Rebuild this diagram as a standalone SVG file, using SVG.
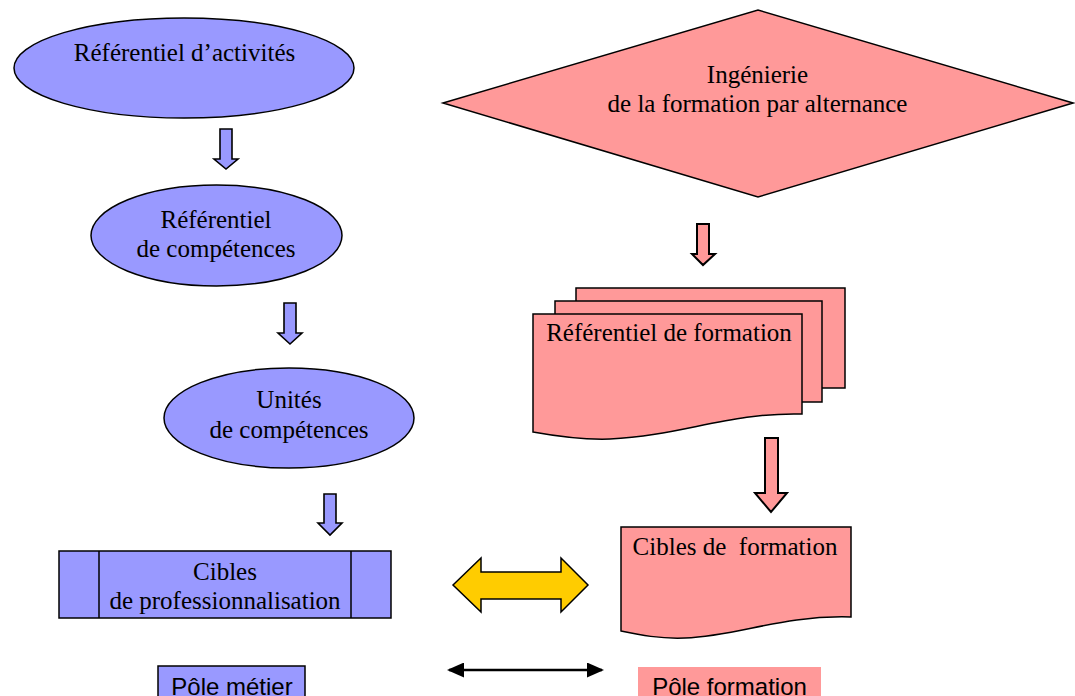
<svg xmlns="http://www.w3.org/2000/svg" width="1075" height="696" viewBox="0 0 1075 696">
  <style>
    .t { font-family: "Liberation Serif", "Times New Roman", serif; font-size: 25px; fill: #000; text-anchor: middle; }
    .s { font-family: "Liberation Sans", Arial, sans-serif; font-size: 24px; fill: #000; text-anchor: middle; }
    .blue { fill: #9999FF; stroke: #000; stroke-width: 1.5; }
    .pink { fill: #FF9999; stroke: #000; stroke-width: 1.5; }
    .barrow { fill: #9999FF; stroke: #000; stroke-width: 1.6; stroke-linejoin: miter; }
    .parrow { fill: #FF9999; stroke: #000; stroke-width: 2; stroke-linejoin: miter; }
  </style>
  <defs>
    <marker id="ah" viewBox="0 0 17 15" refX="15" refY="7.5" markerWidth="17" markerHeight="15" markerUnits="userSpaceOnUse" orient="auto-start-reverse">
      <path d="M0,0 L17,7.5 L0,15 Z" fill="#000"/>
    </marker>
  </defs>
  <rect width="1075" height="696" fill="#fff"/>

  <g id="ref-activites">
    <ellipse class="blue" cx="184" cy="68" rx="170" ry="50"/>
    <text class="t" x="184.5" y="61">Référentiel d’activités</text>
  </g>
  <g id="ref-competences">
    <ellipse class="blue" cx="216.5" cy="235.5" rx="125.5" ry="50.5"/>
    <text class="t" x="216" y="228">Référentiel</text>
    <text class="t" x="216" y="257">de compétences</text>
  </g>
  <g id="unites-competences">
    <ellipse class="blue" cx="289" cy="418" rx="125" ry="50"/>
    <text class="t" x="289" y="408">Unités</text>
    <text class="t" x="289" y="438">de compétences</text>
  </g>
  <g id="cibles-pro">
    <rect class="blue" x="59" y="551" width="332" height="67"/>
    <line x1="99" y1="551" x2="99" y2="618" stroke="#000" stroke-width="1.5"/>
    <line x1="351" y1="551" x2="351" y2="618" stroke="#000" stroke-width="1.5"/>
    <text class="t" x="225" y="580">Cibles</text>
    <text class="t" x="225" y="609">de professionnalisation</text>
  </g>
  <g id="pole-metier">
    <rect class="blue" x="158" y="666" width="147" height="40"/>
    <text class="s" x="232" y="695">Pôle métier</text>
  </g>

  <g id="ingenierie">
    <polygon class="pink" points="443,103 758,10 1073,103 758,197"/>
    <text class="t" x="757.5" y="83">Ingénierie</text>
    <text class="t" x="757.5" y="112">de la formation par alternance</text>
  </g>
  <g id="ref-formation">
    <rect class="pink" x="576" y="288" width="269" height="100"/>
    <rect class="pink" x="555" y="301" width="267" height="101"/>
    <path class="pink" d="M533,314 H802 V414 C730,412 680,436 610,439 C580,440 555,436 533,432 Z"/>
    <text class="t" x="669" y="341">Référentiel de formation</text>
  </g>
  <g id="cibles-formation">
    <path class="pink" d="M621,527 H851 V617 C780,615 740,636 685,638 C660,639 640,635 621,631 Z"/>
    <text class="t" x="735" y="555" xml:space="preserve" style="white-space:pre">Cibles de  formation</text>
  </g>
  <g id="pole-formation">
    <rect x="638" y="667" width="183" height="40" fill="#FF9999"/>
    <text class="s" x="729.5" y="695">Pôle formation</text>
  </g>

  <g id="connectors">
    <polygon class="barrow" points="220,129 232,129 232,159 238,159 226,169 214,159 220,159"/>
    <polygon class="barrow" points="284,303 296,303 296,333 302,333 290,344 278,333 284,333"/>
    <polygon class="barrow" points="324,494 336,494 336,523 342,523 330,535 318,523 324,523"/>
    <polygon class="parrow" points="697,224 709,224 709,254 715,254 703,265 692,254 697,254"/>
    <polygon class="parrow" points="765,438 778,438 778,493 787,493 771,512 755,493 765,493"/>
    <polygon fill="#FFCC00" stroke="#000" stroke-width="1.5" points="453,585 481,558 481,572 561,572 561,558 588,585 561,612 561,599 481,599 481,612"/>
    <line x1="449" y1="670" x2="602" y2="670" stroke="#000" stroke-width="2.5" marker-start="url(#ah)" marker-end="url(#ah)"/>
  </g>
</svg>
